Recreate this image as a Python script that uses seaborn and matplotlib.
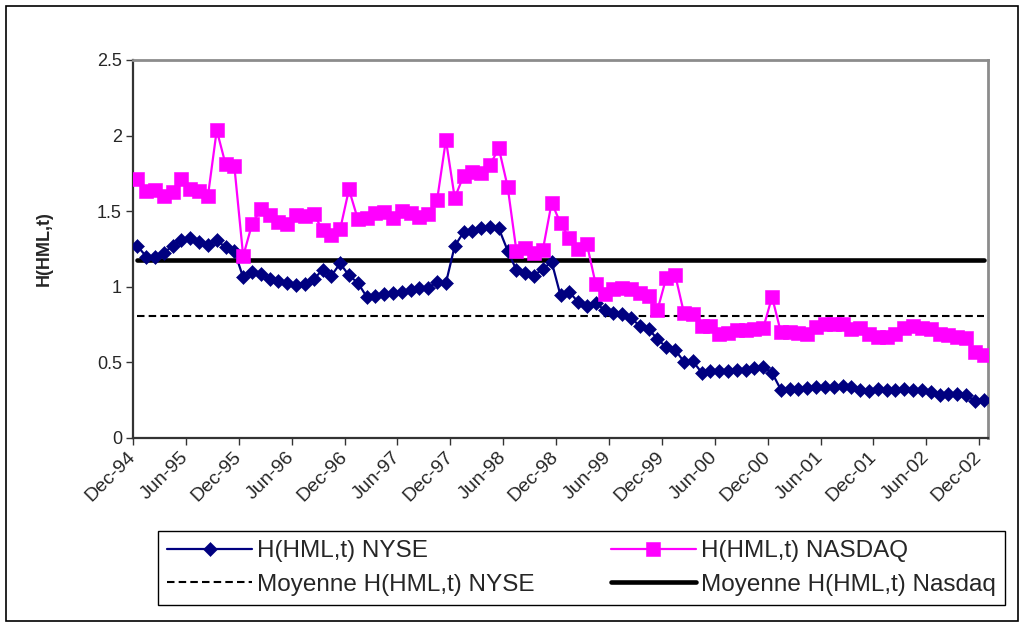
import numpy as np
import pandas as pd
import matplotlib
matplotlib.use("Agg")
import matplotlib.pyplot as plt
import seaborn as sns
from matplotlib.patches import Rectangle

# Monthly observations, Dec-94 .. Dec-02 (97 months)
tick_labels = ["Dec-94", "Jun-95", "Dec-95", "Jun-96", "Dec-96", "Jun-97",
               "Dec-97", "Jun-98", "Dec-98", "Jun-99", "Dec-99", "Jun-00",
               "Dec-00", "Jun-01", "Dec-01", "Jun-02", "Dec-02"]

h_nyse = [
    1.27, 1.20, 1.195, 1.225, 1.27, 1.31, 1.32, 1.295, 1.278, 1.31, 1.26, 1.237,
    1.062, 1.10, 1.085, 1.052, 1.038, 1.027, 1.011, 1.02, 1.049, 1.113, 1.073, 1.155,
    1.075, 1.027, 0.935, 0.94, 0.955, 0.96, 0.965, 0.98, 0.99, 0.995, 1.03, 1.025,
    1.27, 1.36, 1.369, 1.386, 1.397, 1.386, 1.24, 1.11, 1.088, 1.074, 1.12, 1.164,
    0.943, 0.965, 0.90, 0.872, 0.895, 0.845, 0.83, 0.82, 0.795, 0.74, 0.72, 0.655,
    0.60, 0.583, 0.505, 0.51, 0.433, 0.44, 0.441, 0.445, 0.45, 0.45, 0.46, 0.47,
    0.431, 0.32, 0.326, 0.326, 0.333, 0.338, 0.335, 0.335, 0.342, 0.335, 0.32, 0.31,
    0.325, 0.315, 0.315, 0.325, 0.32, 0.32, 0.302, 0.287, 0.294, 0.294, 0.287, 0.243,
    0.254,
]

h_nasdaq = [
    1.715, 1.634, 1.64, 1.603, 1.63, 1.712, 1.645, 1.632, 1.60, 2.036, 1.811, 1.796,
    1.203, 1.413, 1.515, 1.474, 1.427, 1.415, 1.475, 1.469, 1.48, 1.378, 1.345, 1.38,
    1.644, 1.449, 1.455, 1.491, 1.495, 1.453, 1.50, 1.491, 1.462, 1.48, 1.574, 1.971,
    1.588, 1.734, 1.761, 1.75, 1.805, 1.917, 1.663, 1.237, 1.255, 1.223, 1.245, 1.557,
    1.42, 1.32, 1.25, 1.281, 1.016, 0.95, 0.985, 0.995, 0.988, 0.96, 0.938, 0.846,
    1.06, 1.081, 0.828, 0.817, 0.742, 0.74, 0.69, 0.696, 0.712, 0.714, 0.72, 0.726,
    0.933, 0.70, 0.698, 0.692, 0.689, 0.731, 0.755, 0.757, 0.753, 0.72, 0.729, 0.687,
    0.668, 0.668, 0.685, 0.729, 0.742, 0.729, 0.72, 0.685, 0.68, 0.665, 0.663, 0.568,
    0.552,
]

mean_nyse = 0.81
mean_nasdaq = 1.18

y_ticks = [0, 0.5, 1, 1.5, 2, 2.5]
y_tick_labels = ["0", "0.5", "1", "1.5", "2", "2.5"]

labels = ["H(HML,t) NYSE", "H(HML,t) NASDAQ",
          "Moyenne H(HML,t) NYSE", "Moyenne H(HML,t) Nasdaq"]

sns.set_style("ticks")
plt.rcParams["font.family"] = ["Liberation Sans", "DejaVu Sans"]

W, H = 1024, 625
fig = plt.figure(figsize=(W / 100, H / 100), dpi=100)
fig.patch.set_facecolor("white")

# plot area in pixel terms: x 133..988, y 60..438
ax = fig.add_axes([133 / W, 1 - 438 / H, 855 / W, 378 / H])

n = len(h_nyse)
df = pd.DataFrame({
    "month": np.arange(n),
    "nyse": h_nyse,
    "nasdaq": h_nasdaq,
    "mean_nyse": np.full(n, mean_nyse),
    "mean_nasdaq": np.full(n, mean_nasdaq),
})

navy = "#000080"
magenta = "#FF00FF"

sns.lineplot(data=df, x="month", y="mean_nyse", ax=ax, color="black",
             linewidth=1.5, linestyle=(0, (3.6, 2.0)), label=labels[2], zorder=2)
sns.lineplot(data=df, x="month", y="mean_nasdaq", ax=ax, color="black",
             linewidth=3.3, label=labels[3], zorder=2)
sns.lineplot(data=df, x="month", y="nyse", ax=ax, color=navy, linewidth=1.6,
             marker="D", markersize=7, markeredgecolor=navy, markeredgewidth=0.4,
             label=labels[0], zorder=3)
sns.lineplot(data=df, x="month", y="nasdaq", ax=ax, color=magenta, linewidth=1.6,
             marker="s", markersize=9.5, markeredgecolor=magenta, markeredgewidth=0.4,
             label=labels[1], zorder=4)

if ax.get_legend() is not None:
    ax.get_legend().remove()

ax.set_xlim(-0.5, n - 0.5)
ax.set_ylim(0, 2.5)

ax.set_xticks(np.arange(len(tick_labels)) * 6 - 0.5)
ax.set_xticklabels(tick_labels, rotation=45, ha="right", va="center",
                   rotation_mode="anchor", fontsize=14)
ax.set_yticks(y_ticks)
ax.set_yticklabels(y_tick_labels, fontsize=13)

ax.tick_params(axis="x", direction="out", length=5, width=1, pad=7,
               color="#333333", bottom=True)
ax.tick_params(axis="y", direction="out", length=5, width=1, pad=3,
               color="#333333", left=True)

ax.set_xlabel("")
ax.set_ylabel("H(HML,t)", fontsize=13, fontweight="bold")
ax.yaxis.set_label_coords(-0.094, 0.5)

for side in ("left", "bottom"):
    ax.spines[side].set_color("#333333")
    ax.spines[side].set_linewidth(1.6)
for side in ("top", "right"):
    ax.spines[side].set_visible(True)
    ax.spines[side].set_color("#8c8c8c")
    ax.spines[side].set_linewidth(2)

handles, labs = ax.get_legend_handles_labels()
order = [labels[0], labels[2], labels[1], labels[3]]
hmap = dict(zip(labs, handles))
leg = fig.legend([hmap[l] for l in order], order,
                 loc="lower left",
                 bbox_to_anchor=(158 / W, 1 - 605 / H, 847 / W, 80 / H),
                 mode="expand", ncol=2, fontsize=17.5, frameon=True,
                 fancybox=False, edgecolor="black", framealpha=1,
                 handlelength=3.5, handletextpad=0.2, borderpad=0.38,
                 labelspacing=0.48, borderaxespad=0, columnspacing=1.0)
leg.get_frame().set_linewidth(1.0)

# outer chart frame
fig.add_artist(Rectangle((6 / W, 1 - 621 / H), 1012 / W, 615 / H,
                         transform=fig.transFigure, fill=False,
                         edgecolor="black", linewidth=1.2))

fig.savefig("out.png", dpi=100, facecolor="white")
